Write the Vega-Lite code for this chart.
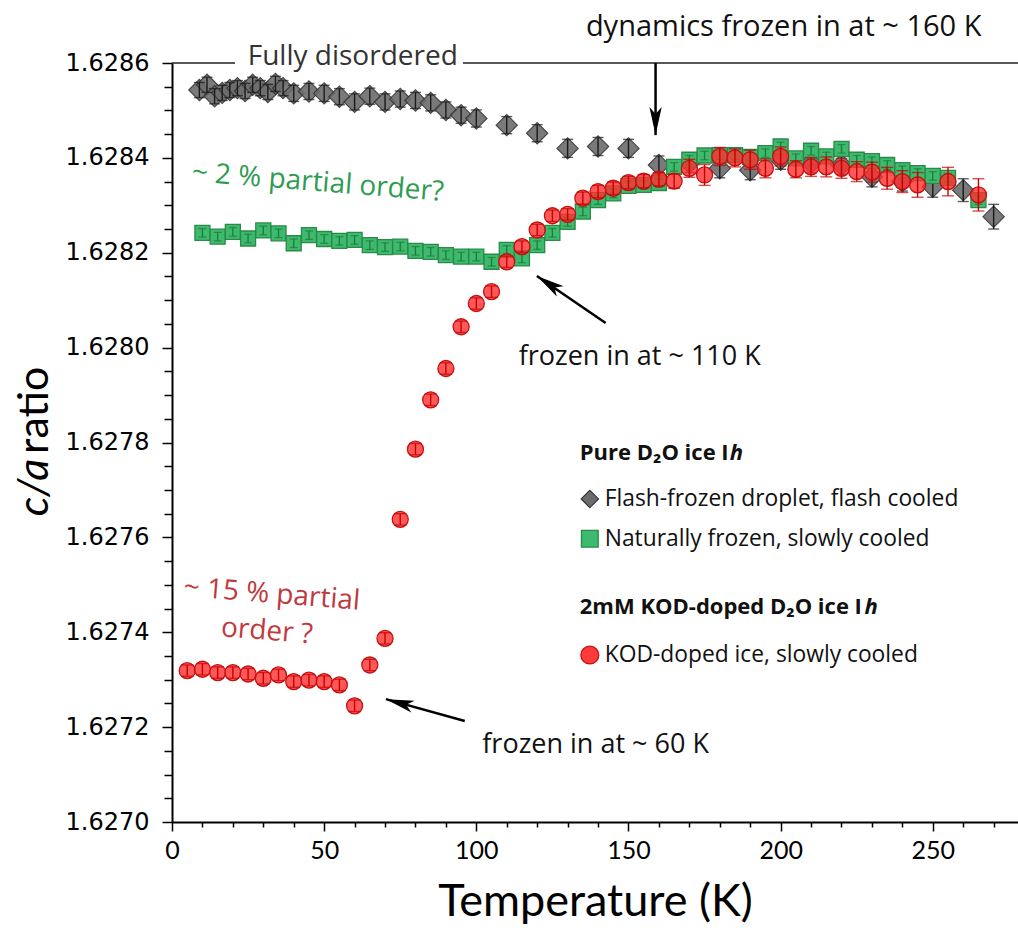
{
  "$schema": "https://vega.github.io/schema/vega-lite/v6.json",
  "width": 846,
  "height": 759,
  "autosize": {"type": "none"},
  "padding": {"left": 172, "top": 63, "right": 0, "bottom": 118},
  "background": "white",
  "config": {"view": {"stroke": null}},
  "datasets": {
    "gray": [
      {"T": 9, "v": 1.628543, "e": 0.000016}, {"T": 11.5, "v": 1.628554, "e": 0.000016}, {"T": 14, "v": 1.62853, "e": 0.000016},
      {"T": 16.5, "v": 1.628537, "e": 0.000016}, {"T": 19, "v": 1.628543, "e": 0.000016}, {"T": 21.5, "v": 1.628547, "e": 0.000016},
      {"T": 24, "v": 1.628541, "e": 0.000016}, {"T": 26.5, "v": 1.628554, "e": 0.000016}, {"T": 29, "v": 1.628547, "e": 0.000016},
      {"T": 31.5, "v": 1.628539, "e": 0.000016}, {"T": 34, "v": 1.628556, "e": 0.000016}, {"T": 36.5, "v": 1.628547, "e": 0.000016},
      {"T": 40, "v": 1.628536, "e": 0.000017}, {"T": 45, "v": 1.62854, "e": 0.000017}, {"T": 50, "v": 1.628536, "e": 0.000017},
      {"T": 55, "v": 1.628529, "e": 0.000017}, {"T": 60, "v": 1.628518, "e": 0.000017}, {"T": 65, "v": 1.62853, "e": 0.000017},
      {"T": 70, "v": 1.628518, "e": 0.000017}, {"T": 75, "v": 1.628524, "e": 0.000017}, {"T": 80, "v": 1.628521, "e": 0.000017},
      {"T": 85, "v": 1.628516, "e": 0.000017}, {"T": 90, "v": 1.628501, "e": 0.000017}, {"T": 95, "v": 1.62849, "e": 0.000017},
      {"T": 100, "v": 1.628483, "e": 0.000018}, {"T": 110, "v": 1.628469, "e": 0.000018}, {"T": 120, "v": 1.628452, "e": 0.000018},
      {"T": 130, "v": 1.62842, "e": 0.000019}, {"T": 140, "v": 1.628424, "e": 0.000019}, {"T": 150, "v": 1.62842, "e": 0.000019},
      {"T": 160, "v": 1.628385, "e": 0.000019}, {"T": 170, "v": 1.628389, "e": 0.00002}, {"T": 180, "v": 1.628378, "e": 0.00002},
      {"T": 190, "v": 1.628374, "e": 0.00002}, {"T": 200, "v": 1.628396, "e": 0.00002}, {"T": 210, "v": 1.628389, "e": 0.00002},
      {"T": 220, "v": 1.628385, "e": 0.00002}, {"T": 230, "v": 1.62836, "e": 0.000021}, {"T": 240, "v": 1.628351, "e": 0.000021},
      {"T": 250, "v": 1.628339, "e": 0.000022}, {"T": 260, "v": 1.628332, "e": 0.000024}, {"T": 270, "v": 1.628276, "e": 0.000026}
    ],
    "green": [
      {"T": 10, "v": 1.628242, "e": 0.000009}, {"T": 15, "v": 1.628234, "e": 0.000009}, {"T": 20, "v": 1.628244, "e": 0.000009},
      {"T": 25, "v": 1.62823, "e": 0.000009}, {"T": 30, "v": 1.628247, "e": 0.000009}, {"T": 35, "v": 1.628241, "e": 0.000009},
      {"T": 40, "v": 1.62822, "e": 0.000009}, {"T": 45, "v": 1.628237, "e": 0.000009}, {"T": 50, "v": 1.628229, "e": 0.000009},
      {"T": 55, "v": 1.628225, "e": 0.000009}, {"T": 60, "v": 1.628227, "e": 0.000009}, {"T": 65, "v": 1.628216, "e": 0.000009},
      {"T": 70, "v": 1.628212, "e": 0.000009}, {"T": 75, "v": 1.628213, "e": 0.000009}, {"T": 80, "v": 1.628204, "e": 0.000009},
      {"T": 85, "v": 1.628202, "e": 0.000009}, {"T": 90, "v": 1.628195, "e": 0.000009}, {"T": 95, "v": 1.628192, "e": 0.000009},
      {"T": 100, "v": 1.628192, "e": 0.000009}, {"T": 105, "v": 1.628181, "e": 0.000009}, {"T": 110, "v": 1.628206, "e": 0.000009},
      {"T": 115, "v": 1.628188, "e": 0.000009}, {"T": 120, "v": 1.628216, "e": 0.000009}, {"T": 125, "v": 1.628242, "e": 0.000009},
      {"T": 130, "v": 1.628265, "e": 0.000009}, {"T": 135, "v": 1.628287, "e": 0.000009}, {"T": 140, "v": 1.628311, "e": 0.000009},
      {"T": 145, "v": 1.628325, "e": 0.000009}, {"T": 150, "v": 1.628341, "e": 0.000009}, {"T": 155, "v": 1.628343, "e": 0.000009},
      {"T": 160, "v": 1.628347, "e": 0.000009}, {"T": 165, "v": 1.628381, "e": 0.000009}, {"T": 170, "v": 1.628396, "e": 0.000009},
      {"T": 175, "v": 1.628405, "e": 0.000009}, {"T": 180, "v": 1.628406, "e": 0.000009}, {"T": 185, "v": 1.628406, "e": 0.000009},
      {"T": 190, "v": 1.628402, "e": 0.000009}, {"T": 195, "v": 1.62841, "e": 0.000009}, {"T": 200, "v": 1.628424, "e": 0.000009},
      {"T": 205, "v": 1.628399, "e": 0.000009}, {"T": 210, "v": 1.628415, "e": 0.000009}, {"T": 215, "v": 1.628403, "e": 0.000009},
      {"T": 220, "v": 1.628419, "e": 0.000009}, {"T": 225, "v": 1.628396, "e": 0.000009}, {"T": 230, "v": 1.628393, "e": 0.000009},
      {"T": 235, "v": 1.628385, "e": 0.000009}, {"T": 240, "v": 1.628374, "e": 0.000009}, {"T": 245, "v": 1.628368, "e": 0.000009},
      {"T": 250, "v": 1.628362, "e": 0.000009}, {"T": 255, "v": 1.628358, "e": 0.000009}, {"T": 265, "v": 1.628311, "e": 0.000009}
    ],
    "red": [
      {"T": 5, "v": 1.627319, "e": 0.000012}, {"T": 10, "v": 1.627322, "e": 0.000012}, {"T": 15, "v": 1.627315, "e": 0.000012},
      {"T": 20, "v": 1.627315, "e": 0.000012}, {"T": 25, "v": 1.627312, "e": 0.000012}, {"T": 30, "v": 1.627303, "e": 0.000012},
      {"T": 35, "v": 1.62731, "e": 0.000012}, {"T": 40, "v": 1.627296, "e": 0.000012}, {"T": 45, "v": 1.627299, "e": 0.000012},
      {"T": 50, "v": 1.627296, "e": 0.000012}, {"T": 55, "v": 1.627289, "e": 0.000012}, {"T": 60, "v": 1.627245, "e": 0.000012},
      {"T": 65, "v": 1.627331, "e": 0.000012}, {"T": 70, "v": 1.627387, "e": 0.000012}, {"T": 75, "v": 1.627638, "e": 0.000012},
      {"T": 80, "v": 1.627786, "e": 0.000012}, {"T": 85, "v": 1.62789, "e": 0.000012}, {"T": 90, "v": 1.627956, "e": 0.000012},
      {"T": 95, "v": 1.628044, "e": 0.000012}, {"T": 100, "v": 1.628093, "e": 0.000012}, {"T": 105, "v": 1.628118, "e": 0.000012},
      {"T": 110, "v": 1.628181, "e": 0.000012}, {"T": 115, "v": 1.628213, "e": 0.000012}, {"T": 120, "v": 1.628248, "e": 0.000012},
      {"T": 125, "v": 1.628278, "e": 0.000012}, {"T": 130, "v": 1.628281, "e": 0.000012}, {"T": 135, "v": 1.628315, "e": 0.000013},
      {"T": 140, "v": 1.628329, "e": 0.000013}, {"T": 145, "v": 1.628336, "e": 0.000013}, {"T": 150, "v": 1.628348, "e": 0.000013},
      {"T": 155, "v": 1.628351, "e": 0.000014}, {"T": 160, "v": 1.628355, "e": 0.000014}, {"T": 165, "v": 1.628351, "e": 0.000015},
      {"T": 170, "v": 1.628378, "e": 0.000019}, {"T": 175, "v": 1.628364, "e": 0.000022}, {"T": 180, "v": 1.628403, "e": 0.000019},
      {"T": 185, "v": 1.6284, "e": 0.000019}, {"T": 190, "v": 1.628396, "e": 0.00002}, {"T": 195, "v": 1.628378, "e": 0.00002},
      {"T": 200, "v": 1.628403, "e": 0.00002}, {"T": 205, "v": 1.628376, "e": 0.000018}, {"T": 210, "v": 1.628381, "e": 0.00002},
      {"T": 215, "v": 1.628381, "e": 0.000021}, {"T": 220, "v": 1.628378, "e": 0.000021}, {"T": 225, "v": 1.628371, "e": 0.000021},
      {"T": 230, "v": 1.62837, "e": 0.000021}, {"T": 235, "v": 1.628357, "e": 0.000023}, {"T": 240, "v": 1.62835, "e": 0.000023},
      {"T": 245, "v": 1.628343, "e": 0.000026}, {"T": 255, "v": 1.62835, "e": 0.00003}, {"T": 265, "v": 1.628322, "e": 0.000034}
    ],
    "topline": [
      {"T": 0, "T2": 20.7, "v": 1.6286},
      {"T": 95.6, "T2": 278, "v": 1.6286}
    ],
    "arrows": [
      {"id": "a160", "T": 158.9, "v": 1.628448, "T2": 158.9, "v2": 1.6286},
      {"id": "a110", "T": 119.9, "v": 1.628151, "T2": 142.5, "v2": 1.628052},
      {"id": "a60", "T": 70.3, "v": 1.627259, "T2": 96.2, "v2": 1.627213}
    ],
    "notes": [
      {"grp": "big", "T": 201.0, "v": 1.628676, "label": "dynamics frozen in at ~ 160 K"},
      {"grp": "black", "T": 153.7, "v": 1.62798, "label": "frozen in at ~ 110 K"},
      {"grp": "black", "T": 139.2, "v": 1.627162, "label": "frozen in at ~ 60 K"},
      {"grp": "dis", "T": 59.4, "v": 1.628596, "label": "Fully disordered"},
      {"grp": "green", "T": 47.9, "v": 1.628347, "label": "~ 2 % partial order?"},
      {"grp": "red", "T": 32.8, "v": 1.627479, "label": "~ 15 % partial"},
      {"grp": "red", "T": 31.2, "v": 1.627401, "label": "order ?"},
      {"grp": "head", "T": 134.0, "v": 1.627778, "label": "Pure D₂O ice I"},
      {"grp": "head", "T": 134.0, "v": 1.627453, "label": "2mM KOD-doped D₂O ice I"},
      {"grp": "headh", "T": 183.3, "v": 1.627778, "label": "h"},
      {"grp": "headh", "T": 227.6, "v": 1.627453, "label": "h"},
      {"grp": "leg", "T": 142.2, "v": 1.627681, "label": "Flash-frozen droplet, flash cooled"},
      {"grp": "leg", "T": 142.2, "v": 1.627597, "label": "Naturally frozen, slowly cooled"},
      {"grp": "leg", "T": 142.2, "v": 1.627352, "label": "KOD-doped ice, slowly cooled"},
      {"grp": "yti", "T": -45, "v": 1.627705, "label": "c/a"},
      {"grp": "yt", "T": -45, "v": 1.627868, "label": "ratio"}
    ],
    "legsym": [
      {"s": "gray", "T": 137.3, "v": 1.627681},
      {"s": "green", "T": 137.3, "v": 1.627597},
      {"s": "red", "T": 137.3, "v": 1.627352}
    ]
  },
  "encoding": {
    "x": {
      "field": "T", "type": "quantitative",
      "scale": {"domain": [0, 278], "nice": false, "zero": false},
      "axis": {
        "title": "Temperature (K)", "titleFont": "Lato", "titleFontSize": 45, "titleFontWeight": "normal",
        "titleColor": "black", "titlePadding": 16,
        "values": [0, 10, 20, 30, 40, 50, 60, 70, 80, 90, 100, 110, 120, 130, 140, 150, 160, 170, 180, 190, 200, 210, 220, 230, 240, 250, 260, 270],
        "labelExpr": "datum.value % 50 === 0 ? datum.label : ''",
        "labelFont": "Lato", "labelFontSize": 25, "labelColor": "black", "labelPadding": 7,
        "labelOverlap": false, "labelFlush": false,
        "tickSize": {"condition": {"test": "datum.value % 50 === 0", "value": 9}, "value": 5},
        "tickColor": "black", "tickWidth": 1.5, "domainColor": "black", "domainWidth": 2, "grid": false
      }
    },
    "y": {
      "field": "v", "type": "quantitative",
      "scale": {"domain": [1.627, 1.6286], "nice": false, "zero": false},
      "axis": {
        "title": null,
        "values": [1.627, 1.62705, 1.6271, 1.62715, 1.6272, 1.62725, 1.6273, 1.62735, 1.6274, 1.62745, 1.6275, 1.62755, 1.6276, 1.62765, 1.6277, 1.62775, 1.6278, 1.62785, 1.6279, 1.62795, 1.628, 1.62805, 1.6281, 1.62815, 1.6282, 1.62825, 1.6283, 1.62835, 1.6284, 1.62845, 1.6285, 1.62855, 1.6286],
        "labelExpr": "round(datum.value*20000) % 4 === 0 ? format(datum.value, '.4f') : ''",
        "labelFont": "DejaVu Sans", "labelFontSize": 24, "labelColor": "black", "labelPadding": 13,
        "labelOverlap": false, "labelFlush": false,
        "tickSize": {"condition": {"test": "round(datum.value*20000) % 4 === 0", "value": 10}, "value": 8},
        "tickColor": "black", "tickWidth": 1.5, "domainColor": "black", "domainWidth": 2, "grid": false
      }
    }
  },
  "layer": [
    {"data": {"name": "topline"}, "mark": {"type": "rule", "color": "#222222", "strokeWidth": 1.5}, "encoding": {"x2": {"field": "T2"}}},
    {"data": {"name": "gray"}, "mark": {"type": "point", "shape": "diamond", "filled": true, "size": 450, "fill": "#6c6c6c", "stroke": "#353535", "strokeWidth": 1.2, "opacity": 0.9}},
    {"data": {"name": "gray"}, "mark": {"type": "errorbar", "ticks": true, "size": 11, "thickness": 1.4, "color": "#1a1a1a"}, "encoding": {"yError": {"field": "e"}}},
    {"data": {"name": "green"}, "mark": {"type": "point", "shape": "square", "filled": true, "size": 225, "fill": "#3dba6d", "stroke": "#2a8a48", "strokeWidth": 1.3, "opacity": 1}},
    {"data": {"name": "green"}, "mark": {"type": "errorbar", "ticks": true, "size": 8, "thickness": 1.3, "color": "#1e7a3a"}, "encoding": {"yError": {"field": "e"}}},
    {"data": {"name": "red"}, "mark": {"type": "point", "shape": "circle", "filled": true, "size": 256, "fill": "#ff2e2e", "fillOpacity": 0.8, "stroke": "#c41010", "strokeWidth": 1.3, "strokeOpacity": 1}},
    {"data": {"name": "red"}, "mark": {"type": "errorbar", "ticks": true, "size": 12, "thickness": 1.4, "color": "#c80000"}, "encoding": {"yError": {"field": "e"}}},
    {"data": {"name": "arrows"}, "mark": {"type": "rule", "color": "black", "strokeWidth": 2.5}, "encoding": {"x2": {"field": "T2"}, "y2": {"field": "v2"}}},
    {"data": {"name": "arrows"}, "transform": [{"filter": "datum.id === 'a160'"}], "mark": {"type": "point", "shape": "M0,0L-0.22,-1L0,-0.75L0.22,-1Z", "filled": true, "fill": "black", "strokeWidth": 0, "size": 3136, "angle": 0, "opacity": 1}},
    {"data": {"name": "arrows"}, "transform": [{"filter": "datum.id === 'a110'"}], "mark": {"type": "point", "shape": "M0,0L-0.22,-1L0,-0.75L0.22,-1Z", "filled": true, "fill": "black", "strokeWidth": 0, "size": 3136, "angle": 123.5, "opacity": 1}},
    {"data": {"name": "arrows"}, "transform": [{"filter": "datum.id === 'a60'"}], "mark": {"type": "point", "shape": "M0,0L-0.22,-1L0,-0.75L0.22,-1Z", "filled": true, "fill": "black", "strokeWidth": 0, "size": 3136, "angle": 105.4, "opacity": 1}},
    {"data": {"name": "notes"}, "transform": [{"filter": "datum.grp === 'big'"}], "mark": {"type": "text", "font": "Open Sans", "fontSize": 29, "color": "#111111", "align": "center", "baseline": "middle"}, "encoding": {"text": {"field": "label"}}},
    {"data": {"name": "notes"}, "transform": [{"filter": "datum.grp === 'black'"}], "mark": {"type": "text", "font": "Open Sans", "fontSize": 27, "color": "#111111", "align": "center", "baseline": "middle"}, "encoding": {"text": {"field": "label"}}},
    {"data": {"name": "notes"}, "transform": [{"filter": "datum.grp === 'dis'"}], "mark": {"type": "text", "font": "Open Sans", "fontSize": 28, "color": "#333333", "align": "center", "baseline": "alphabetic"}, "encoding": {"text": {"field": "label"}}},
    {"data": {"name": "notes"}, "transform": [{"filter": "datum.grp === 'green'"}], "mark": {"type": "text", "font": "Open Sans", "fontSize": 28, "color": "#2e9b50", "align": "center", "baseline": "middle", "angle": 4.5}, "encoding": {"text": {"field": "label"}}},
    {"data": {"name": "notes"}, "transform": [{"filter": "datum.grp === 'red'"}], "mark": {"type": "text", "font": "Open Sans", "fontSize": 28, "color": "#c0393f", "align": "center", "baseline": "middle", "angle": 4.5}, "encoding": {"text": {"field": "label"}}},
    {"data": {"name": "notes"}, "transform": [{"filter": "datum.grp === 'head'"}], "mark": {"type": "text", "font": "Open Sans", "fontSize": 22, "fontWeight": "bold", "color": "#111111", "align": "left", "baseline": "middle"}, "encoding": {"text": {"field": "label"}}},
    {"data": {"name": "notes"}, "transform": [{"filter": "datum.grp === 'headh'"}], "mark": {"type": "text", "font": "Open Sans", "fontSize": 22, "fontWeight": "bold", "fontStyle": "italic", "color": "#111111", "align": "left", "baseline": "middle"}, "encoding": {"text": {"field": "label"}}},
    {"data": {"name": "notes"}, "transform": [{"filter": "datum.grp === 'leg'"}], "mark": {"type": "text", "font": "Open Sans", "fontSize": 22.8, "color": "#111111", "align": "left", "baseline": "middle"}, "encoding": {"text": {"field": "label"}}},
    {"data": {"name": "notes"}, "transform": [{"filter": "datum.grp === 'yti'"}], "mark": {"type": "text", "font": "Lato", "fontSize": 43, "fontStyle": "italic", "color": "black", "align": "center", "baseline": "middle", "angle": 270}, "encoding": {"text": {"field": "label"}}},
    {"data": {"name": "notes"}, "transform": [{"filter": "datum.grp === 'yt'"}], "mark": {"type": "text", "font": "Lato", "fontSize": 43, "color": "black", "align": "center", "baseline": "middle", "angle": 270}, "encoding": {"text": {"field": "label"}}},
    {"data": {"name": "legsym"}, "transform": [{"filter": "datum.s === 'gray'"}], "mark": {"type": "point", "shape": "diamond", "filled": true, "size": 300, "fill": "#6c6c6c", "stroke": "#353535", "strokeWidth": 1.2, "opacity": 1}},
    {"data": {"name": "legsym"}, "transform": [{"filter": "datum.s === 'green'"}], "mark": {"type": "point", "shape": "square", "filled": true, "size": 280, "fill": "#3dba6d", "stroke": "#2a8a48", "strokeWidth": 1.3, "opacity": 1}},
    {"data": {"name": "legsym"}, "transform": [{"filter": "datum.s === 'red'"}], "mark": {"type": "point", "shape": "circle", "filled": true, "size": 320, "fill": "#ff3a3a", "stroke": "#c41010", "strokeWidth": 1.3, "opacity": 1}}
  ]
}
